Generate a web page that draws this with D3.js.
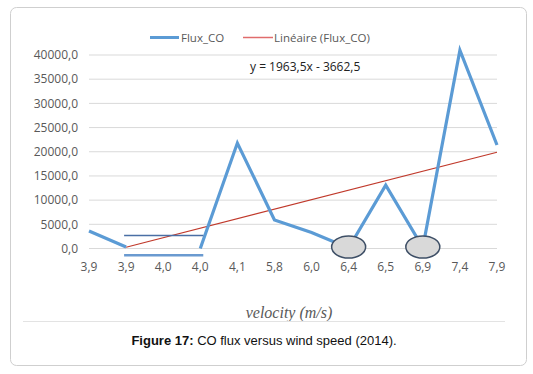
<!DOCTYPE html>
<html>
<head>
<meta charset="utf-8">
<script src="https://cdn.jsdelivr.net/npm/d3@7"></script>
<style>
  html, body { margin: 0; padding: 0; background: #fff; }
  #chart { width: 533px; height: 374px; }
</style>
</head>
<body>
<div id="chart"></div>
<script>
// Flux_CO vs wind speed, Excel-style line chart with linear trend

const categories = ["3,9", "3,9", "4,0", "4,0", "4,1", "5,8", "6,0", "6,4", "6,5", "6,9", "7,4", "7,9"];
// null = gap in the line
const fluxCO = [3600, 300, null, 0, 21800, 5900, 3300, 100, 13100, 200, 41000, 21400];
const yTicks = [0, 5000, 10000, 15000, 20000, 25000, 30000, 35000, 40000];
// trendline shown on chart: y = 1963,5x - 3662,5 (x = category index, 1-based)
const trendSlope = 1963.5;
const trendIntercept = -3662.5;
const trendRange = [2, 12];
// hand-drawn annotations: horizontal bars (from idx, to idx, value) and ellipses (idx, value)
const annoLines = [
  { from: 1, to: 3, value: 2700, thick: false },
  { from: 1, to: 3, value: -1400, thick: true }
];
const annoEllipses = [7, 9];

const width = 533, height = 374;
const plot = { left: 89, right: 497, top: 55, bottom: 248.5 };

const svg = d3.select("#chart").append("svg")
  .attr("width", width)
  .attr("height", height)
  .style("font-family", "'Open Sans', 'DejaVu Sans', sans-serif");

// frame
svg.append("rect")
  .attr("x", 10.5).attr("y", 7.5)
  .attr("width", 516).attr("height", 358)
  .attr("rx", 6)
  .attr("fill", "#fff")
  .attr("stroke", "#cfcfcf");

const x = d3.scalePoint()
  .domain(d3.range(categories.length))
  .range([plot.left, plot.right]);

const y = d3.scaleLinear()
  .domain([0, 40000])
  .range([plot.bottom, plot.top]);

// gridlines
svg.append("g")
  .selectAll("line")
  .data(yTicks)
  .join("line")
  .attr("x1", plot.left).attr("x2", plot.right)
  .attr("y1", d => y(d)).attr("y2", d => y(d))
  .attr("stroke", "#d9d9d9");

// y labels
svg.append("g")
  .selectAll("text")
  .data(yTicks)
  .join("text")
  .attr("x", 78)
  .attr("y", d => y(d))
  .attr("dy", "0.35em")
  .attr("text-anchor", "end")
  .attr("fill", "#595959")
  .style("font-size", "12px")
  .text(d => d3.format("d")(d) + ",0");

// x labels
svg.append("g")
  .selectAll("text")
  .data(categories)
  .join("text")
  .attr("x", (d, i) => x(i))
  .attr("y", 267)
  .attr("dy", "0.35em")
  .attr("text-anchor", "middle")
  .attr("fill", "#595959")
  .style("font-size", "12px")
  .text(d => d);

// trendline
svg.append("line")
  .attr("x1", x(trendRange[0] - 1))
  .attr("y1", y(trendSlope * trendRange[0] + trendIntercept))
  .attr("x2", x(trendRange[1] - 1))
  .attr("y2", y(trendSlope * trendRange[1] + trendIntercept))
  .attr("stroke", "#c0392b")
  .attr("stroke-width", 1.2);

// data line
const line = d3.line()
  .defined(d => d != null)
  .x((d, i) => x(i))
  .y(d => y(d));

svg.append("path")
  .datum(fluxCO)
  .attr("d", line)
  .attr("fill", "none")
  .attr("stroke", "#5b9bd5")
  .attr("stroke-width", 3.2)
  .attr("stroke-linejoin", "miter");

// annotations
svg.append("g")
  .selectAll("line")
  .data(annoLines)
  .join("line")
  .attr("x1", d => x(d.from) - 2)
  .attr("x2", d => x(d.to) + 3)
  .attr("y1", d => y(d.value)).attr("y2", d => y(d.value))
  .attr("stroke", d => d.thick ? "#6a9ad0" : "#4a6fa5")
  .attr("stroke-width", d => d.thick ? 2.5 : 1.5);

svg.append("g")
  .selectAll("ellipse")
  .data(annoEllipses)
  .join("ellipse")
  .attr("cx", d => x(d))
  .attr("cy", 247)
  .attr("rx", 17)
  .attr("ry", 11)
  .attr("fill", "#d9d9d9")
  .attr("stroke", "#3e4f66")
  .attr("stroke-width", 1.5);

// legend
const legend = svg.append("g").style("font-size", "11.5px").attr("fill", "#595959");
legend.append("line")
  .attr("x1", 150).attr("x2", 179).attr("y1", 37.5).attr("y2", 37.5)
  .attr("stroke", "#5b9bd5").attr("stroke-width", 3);
legend.append("text").attr("x", 181).attr("y", 38).attr("dy", "0.35em").text("Flux_CO");
legend.append("line")
  .attr("x1", 243).attr("x2", 273).attr("y1", 37.5).attr("y2", 37.5)
  .attr("stroke", "#e06c6c").attr("stroke-width", 1.5);
legend.append("text").attr("x", 274).attr("y", 38).attr("dy", "0.35em").text("Linéaire (Flux_CO)");

// equation
svg.append("text")
  .attr("x", 250).attr("y", 67).attr("dy", "0.35em")
  .attr("fill", "#222")
  .style("font-size", "12px")
  .text("y = 1963,5x - 3662,5");

// axis title
svg.append("text")
  .attr("x", 289).attr("y", 312).attr("dy", "0.35em")
  .attr("text-anchor", "middle")
  .attr("fill", "#595959")
  .style("font-family", "'Liberation Serif', serif")
  .style("font-style", "italic")
  .style("font-size", "16px")
  .text("velocity (m/s)");

// separator
svg.append("line")
  .attr("x1", 23).attr("x2", 505).attr("y1", 321.5).attr("y2", 321.5)
  .attr("stroke", "#e3e3e3");

// caption
const cap = svg.append("text")
  .attr("x", 264).attr("y", 340).attr("dy", "0.35em")
  .attr("text-anchor", "middle")
  .attr("fill", "#111")
  .style("font-family", "'Liberation Sans', Arial, sans-serif")
  .style("font-size", "13px");
cap.append("tspan").style("font-weight", "bold").text("Figure 17:");
cap.append("tspan").text(" CO flux versus wind speed (2014).");
</script>
</body>
</html>
